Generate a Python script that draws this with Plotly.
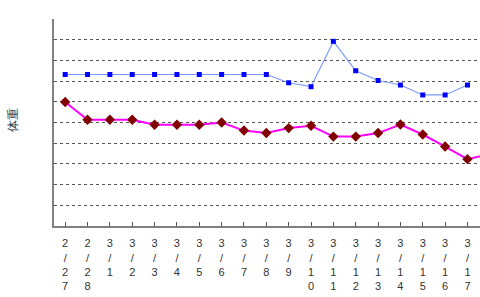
import plotly.graph_objects as go

dates = ["2/27", "2/28", "3/1", "3/2", "3/3", "3/4", "3/5", "3/6", "3/7", "3/8",
         "3/9", "3/10", "3/11", "3/12", "3/13", "3/14", "3/15", "3/16", "3/17", "3/18"]
blue_vals = [7.32, 7.32, 7.32, 7.32, 7.32, 7.32, 7.32, 7.32, 7.32, 7.32,
             6.92, 6.73, 8.92, 7.50, 7.03, 6.81, 6.33, 6.33, 6.81, None]
red_vals = [5.99, 5.13, 5.13, 5.13, 4.89, 4.89, 4.89, 5.00, 4.61, 4.49,
            4.73, 4.84, 4.32, 4.32, 4.49, 4.90, 4.42, 3.84, 3.23, 3.48]
y_title = "体重"

labels = ["<br>".join(list(d)) for d in dates]
xs = list(range(len(dates)))

fig = go.Figure()
fig.add_trace(go.Scatter(
    x=xs, y=blue_vals, mode="lines+markers",
    line=dict(color="#7B9BFF", width=1.2),
    marker=dict(symbol="square", size=5, color="#0000FF"),
    cliponaxis=True, showlegend=False))
fig.add_trace(go.Scatter(
    x=xs, y=red_vals, mode="lines+markers",
    line=dict(color="#FF00FF", width=2),
    marker=dict(symbol="diamond", size=8, color="#800000"),
    cliponaxis=True, showlegend=False))

fig.update_layout(
    width=480, height=297,
    margin=dict(l=54, r=0, t=19, b=71),
    paper_bgcolor="white", plot_bgcolor="white",
    font=dict(family="Liberation Sans, Arial", color="#333333"),
    xaxis=dict(
        range=[-0.5, 18.56], tickmode="array", tickvals=xs, ticktext=labels,
        tickson="boundaries", ticks="inside", ticklen=4, tickcolor="#555555",
        showline=True, linecolor="#808080", linewidth=2, showgrid=False,
        zeroline=False, tickangle=0, tickfont=dict(size=11, color="#333333"),
        ticklabelstandoff=6,
    ),
    yaxis=dict(
        range=[0, 10], tickmode="array", tickvals=[1, 2, 3, 4, 5, 6, 7, 8, 9],
        showticklabels=False, ticks="", showgrid=True, gridcolor="#555555",
        griddash="dot", gridwidth=1, showline=True, linecolor="#808080",
        linewidth=2, zeroline=False,
    ),
    yaxis2=dict(
        overlaying="y", side="left", range=[0, 10], tickmode="array",
        tickvals=[10], ticks="inside", ticklen=4, tickcolor="#555555",
        showticklabels=False, showgrid=False, showline=False, zeroline=False,
    ),
    annotations=[dict(
        text=y_title, xref="paper", yref="paper", x=-41 / 426, y=0.51,
        xanchor="center", yanchor="middle", textangle=-90, showarrow=False,
        font=dict(size=12, color="#333333"),
    )],
)
fig.add_trace(go.Scatter(x=[None], y=[None], yaxis="y2", showlegend=False, hoverinfo="skip"))

fig.write_html("out.html")
